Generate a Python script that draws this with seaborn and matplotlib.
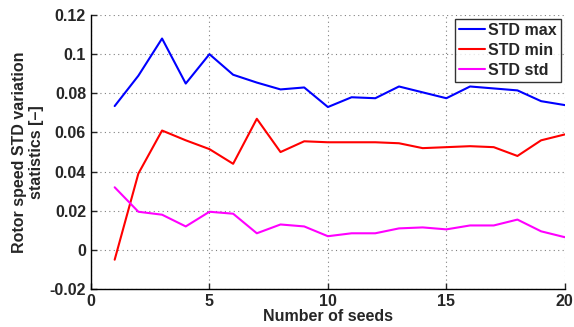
import numpy as np
import pandas as pd
import seaborn as sns
import matplotlib
matplotlib.use("Agg")
import matplotlib.pyplot as plt

seeds = list(range(1, 21))
std_max = [0.0735, 0.089, 0.108, 0.085, 0.100, 0.0895, 0.0855, 0.082, 0.083, 0.073,
           0.078, 0.0775, 0.0835, 0.0805, 0.0775, 0.0835, 0.0825, 0.0815, 0.076, 0.074]
std_min = [-0.005, 0.039, 0.061, 0.056, 0.0515, 0.044, 0.067, 0.050, 0.0555, 0.055,
           0.055, 0.055, 0.0545, 0.052, 0.0525, 0.053, 0.0525, 0.048, 0.056, 0.059]
std_std = [0.032, 0.0195, 0.018, 0.012, 0.0195, 0.0185, 0.0085, 0.013, 0.012, 0.007,
           0.0085, 0.0085, 0.011, 0.0115, 0.0105, 0.0125, 0.0125, 0.0155, 0.0095, 0.0065]
series_names = ["STD max", "STD min", "STD std"]
colors = ["#0000ff", "#ff0000", "#ff00ff"]

df = pd.DataFrame({"seeds": seeds * 3,
                   "value": std_max + std_min + std_std,
                   "series": [series_names[0]] * 20 + [series_names[1]] * 20 + [series_names[2]] * 20})

sns.set_style("white")
plt.rcParams["font.family"] = ["Liberation Sans", "DejaVu Sans"]
plt.rcParams["font.weight"] = "bold"

fig = plt.figure(figsize=(5.74, 3.27), dpi=100)
ax = fig.add_axes([0.1585, 0.116, 0.8255, 0.838])
sns.lineplot(data=df, x="seeds", y="value", hue="series", palette=colors, ax=ax, linewidth=1.5)

ax.set_xlim(0, 20)
ax.set_ylim(-0.02, 0.12)
ax.set_xticks([0, 5, 10, 15, 20])
ax.set_yticks([-0.02, 0, 0.02, 0.04, 0.06, 0.08, 0.1, 0.12])
ax.set_yticklabels(["-0.02", "0", "0.02", "0.04", "0.06", "0.08", "0.1", "0.12"])
ax.grid(True, linestyle=(0, (1, 3)), color="#808080", linewidth=0.8)
ax.tick_params(direction="in", length=4, labelsize=11.5, width=1, top=False, right=False,
               bottom=True, left=True)
for lbl in ax.get_xticklabels() + ax.get_yticklabels():
    lbl.set_fontweight("bold")
for s in ax.spines.values():
    s.set_color("black")
    s.set_linewidth(1)
ax.spines["top"].set_visible(False)
ax.spines["right"].set_visible(False)
ax.set_xlabel("Number of seeds", fontsize=11.5, fontweight="bold", labelpad=0)
ax.set_ylabel("Rotor speed STD variation\nstatistics [\u2013]", fontsize=11.5, fontweight="bold", labelpad=4)

leg = ax.legend(loc="upper right", fontsize=11.5, frameon=True, fancybox=False,
                edgecolor="black", borderpad=0.25, labelspacing=0.3, handlelength=1.6,
                handletextpad=0.2, borderaxespad=0.25)
leg.get_frame().set_linewidth(1)
for t in leg.get_texts():
    t.set_fontweight("bold")

fig.savefig("out.png", dpi=100, facecolor="white")
